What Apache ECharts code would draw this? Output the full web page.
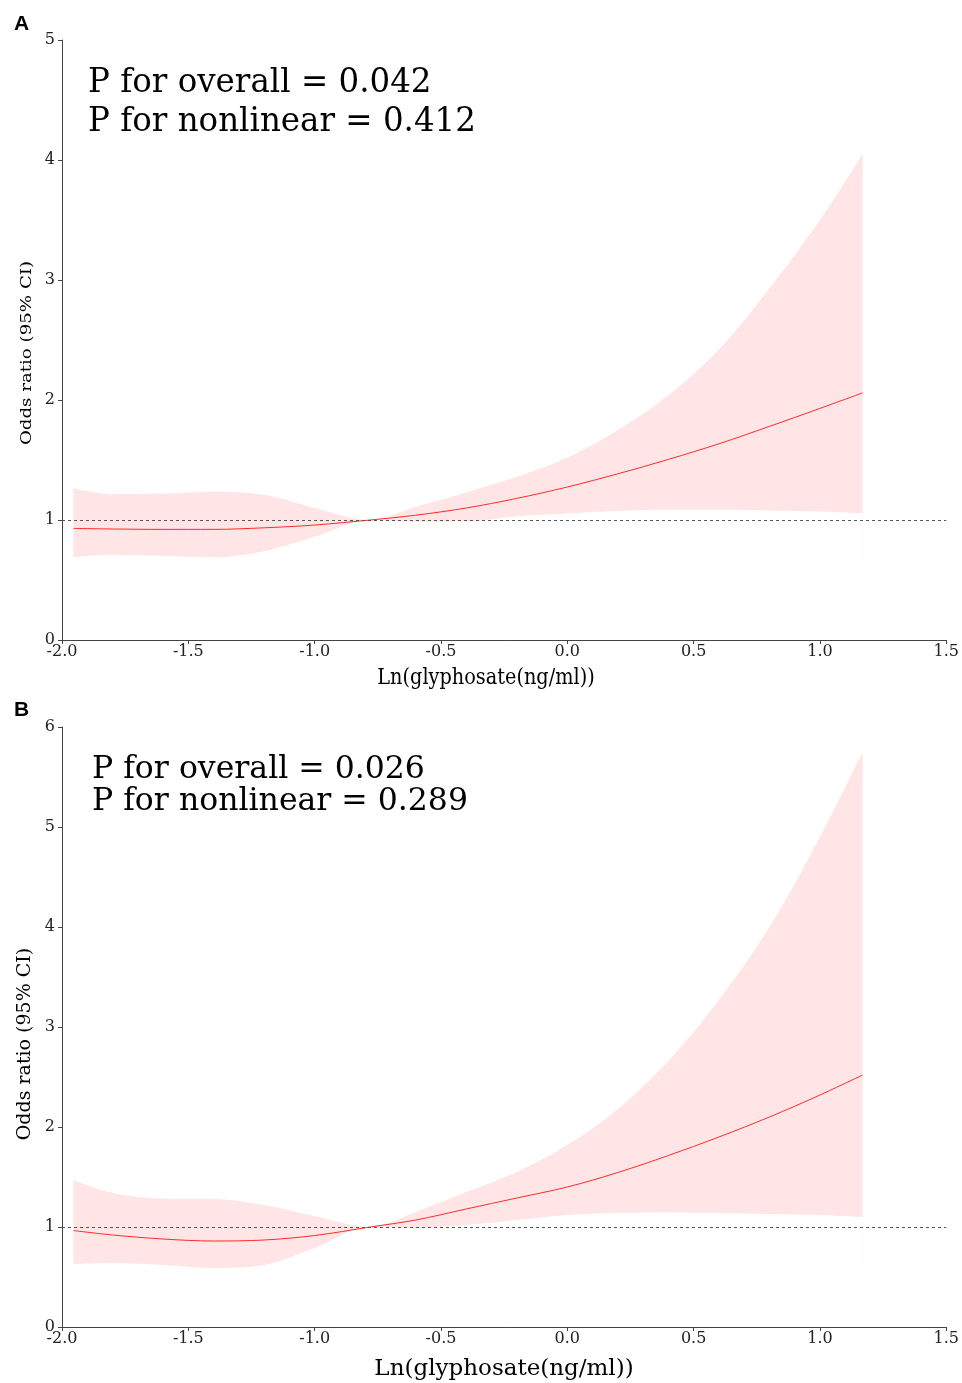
<!DOCTYPE html>
<html>
<head>
<meta charset="utf-8">
<script src="https://cdn.jsdelivr.net/npm/echarts@6/dist/echarts.min.js"></script>
<style>
  html, body { margin: 0; padding: 0; background: #fff; }
  #main { width: 962px; height: 1383px; }
</style>
</head>
<body>
<div id="main"></div>
<script>
// x positions (Ln glyphosate) shared by both panels
const xs = [-1.955, -1.8, -1.6, -1.4, -1.2, -1.0, -0.78, -0.6, -0.4, -0.2, 0, 0.2, 0.4, 0.6, 0.8, 1.0, 1.169]

// panel A
const orA = [0.93, 0.925, 0.922, 0.922, 0.935, 0.958, 1.0, 1.04, 1.10, 1.18, 1.275, 1.385, 1.505, 1.635, 1.78, 1.93, 2.06]
const upA = [1.265, 1.215, 1.22, 1.236, 1.21, 1.10, 1.0, 1.11, 1.23, 1.36, 1.52, 1.75, 2.04, 2.42, 2.93, 3.50, 4.05]
const loA = [0.69, 0.71, 0.70, 0.69, 0.74, 0.86, 1.0, 0.985, 0.99, 1.03, 1.055, 1.075, 1.085, 1.085, 1.08, 1.07, 1.055]

// panel B
const orB = [0.965, 0.92, 0.88, 0.86, 0.87, 0.915, 1.0, 1.07, 1.18, 1.29, 1.40, 1.545, 1.715, 1.90, 2.10, 2.32, 2.52]
const upB = [1.47, 1.34, 1.285, 1.28, 1.22, 1.11, 1.0, 1.15, 1.35, 1.55, 1.82, 2.18, 2.66, 3.27, 4.0, 4.9, 5.75]
const loB = [0.63, 0.64, 0.62, 0.59, 0.62, 0.79, 1.0, 0.99, 1.02, 1.07, 1.12, 1.14, 1.145, 1.14, 1.13, 1.12, 1.10]

const xTicks = ['-2.0', '-1.5', '-1.0', '-0.5', '0.0', '0.5', '1.0', '1.5']

const serif = 'DejaVu Serif'
const axisColor = '#444'
const bandColor = '#ffe5e6'

function pairs (vals) {
  return xs.map((x, i) => [x, vals[i]])
}

function xAxisFor (idx) {
  return {
    type: 'value',
    gridIndex: idx,
    min: -2,
    max: 1.5,
    interval: 0.5,
    axisLine: { onZero: false, lineStyle: { color: axisColor, width: 1 } },
    axisTick: { inside: false, length: 4, lineStyle: { color: axisColor } },
    splitLine: { show: false },
    axisLabel: {
      margin: 4,
      color: '#222',
      fontFamily: serif,
      fontSize: 16,
      showMinLabel: true,
      showMaxLabel: true,
      formatter: v => xTicks[Math.round((v + 2) / 0.5)]
    }
  }
}
function yAxisFor (idx, max) {
  return {
    type: 'value',
    gridIndex: idx,
    min: 0,
    max: max,
    interval: 1,
    axisLine: { show: true, onZero: false, lineStyle: { color: axisColor, width: 1 } },
    axisTick: { show: true, inside: false, length: 4, lineStyle: { color: axisColor } },
    splitLine: { show: false },
    axisLabel: { margin: 7, color: '#222', fontFamily: serif, fontSize: 16 }
  }
}

// band: upper bound filled down to `base`, then the part below the lower bound masked white
function panelSeries (idx, lo, up, or, base) {
  const smooth = { smooth: 0.35, symbol: 'none' }
  return [
    Object.assign({
      type: 'line', xAxisIndex: idx, yAxisIndex: idx, z: 1,
      data: pairs(up), silent: true,
      lineStyle: { width: 0, opacity: 0 },
      areaStyle: { color: bandColor, opacity: 1, origin: base }
    }, smooth),
    Object.assign({
      type: 'line', xAxisIndex: idx, yAxisIndex: idx, z: 2,
      data: pairs(lo), silent: true,
      lineStyle: { width: 0, opacity: 0 },
      areaStyle: { color: '#fff', opacity: 1, origin: base - 0.02 }
    }, smooth),
    Object.assign({
      type: 'line', xAxisIndex: idx, yAxisIndex: idx, z: 3,
      data: pairs(or),
      lineStyle: { color: '#ff2a2a', width: 1 },
      markLine: {
        silent: true, symbol: 'none', label: { show: false },
        lineStyle: { color: '#555', type: [3, 3], width: 1 },
        data: [{ yAxis: 1 }]
      }
    }, smooth)
  ]
}

const myChart = echarts.init(document.getElementById('main'))
const option = {
  animation: false,
  backgroundColor: '#fff',
  grid: [
    { left: 62, top: 40, width: 886, height: 600 },
    { left: 62, top: 727, width: 886, height: 600 }
  ],
  xAxis: [xAxisFor(0), xAxisFor(1)],
  yAxis: [yAxisFor(0, 5), yAxisFor(1, 6)],
  series: [].concat(panelSeries(0, loA, upA, orA, 0.66), panelSeries(1, loB, upB, orB, 0.57)),
  graphic: [
    { type: 'text', x: 14, y: 14, style: { text: 'A', font: 'bold 21px "Liberation Sans", Arial, sans-serif', fill: '#000' } },
    { type: 'text', x: 14, y: 700, style: { text: 'B', font: 'bold 21px "Liberation Sans", Arial, sans-serif', fill: '#000' } },
    {
      type: 'text', x: 88, y: 64, scaleX: 0.985,
      style: { text: 'P for overall = 0.042\nP for nonlinear = 0.412', font: '33px "DejaVu Serif"', lineHeight: 39, fill: '#000' }
    },
    {
      type: 'text', x: 92, y: 754,
      style: { text: 'P for overall = 0.026\nP for nonlinear = 0.289', font: '31.5px "DejaVu Serif"', lineHeight: 32, fill: '#000' }
    },
    {
      type: 'text', x: 486, y: 678, scaleX: 0.877,
      style: { text: 'Ln(glyphosate(ng/ml))', font: '22px "DejaVu Serif"', fill: '#000', align: 'center', verticalAlign: 'middle' }
    },
    {
      type: 'text', x: 504, y: 1369,
      style: { text: 'Ln(glyphosate(ng/ml))', font: '23px "DejaVu Serif"', fill: '#000', align: 'center', verticalAlign: 'middle' }
    },
    {
      type: 'text', x: 27, y: 353, rotation: Math.PI / 2, scaleY: 0.85,
      style: { text: 'Odds ratio (95% CI)', font: '18.2px "DejaVu Serif"', fill: '#000', align: 'center', verticalAlign: 'middle' }
    },
    {
      type: 'text', x: 25, y: 1044, rotation: Math.PI / 2,
      style: { text: 'Odds ratio (95% CI)', font: '19px "DejaVu Serif"', fill: '#000', align: 'center', verticalAlign: 'middle' }
    }
  ]
}
myChart.setOption(option)
</script>
</body>
</html>
